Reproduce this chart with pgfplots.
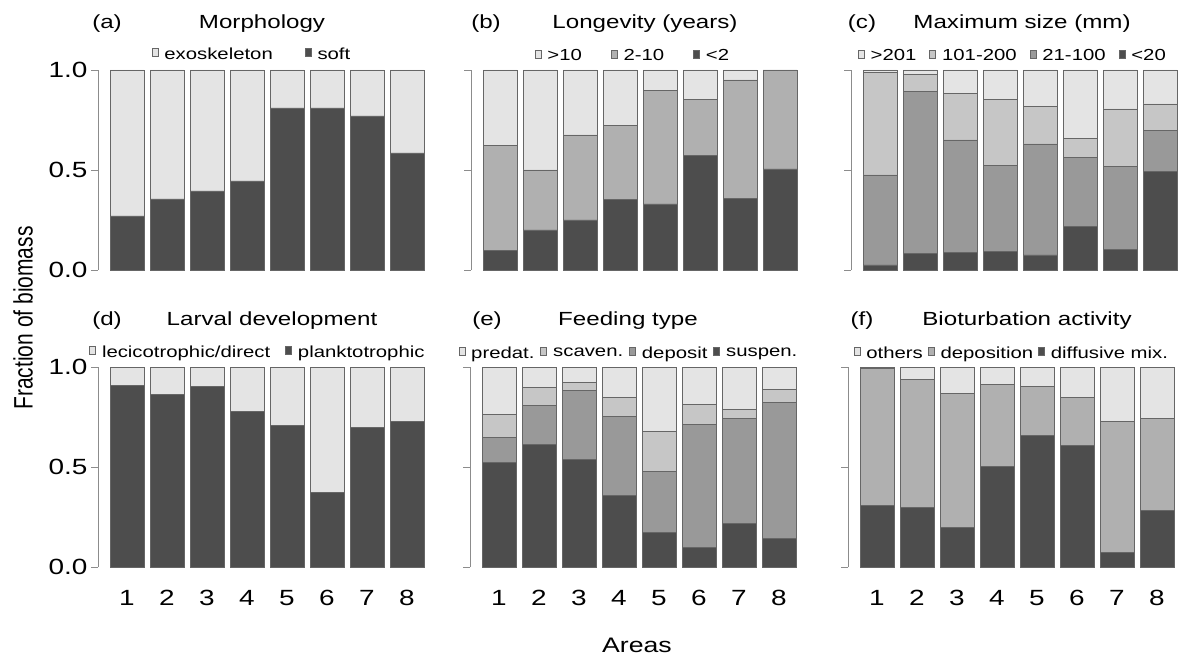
\documentclass[border=0pt]{standalone}
\usepackage{pgfplots}
\usepackage{pgfplotstable}
\usepackage{graphicx}
\usepackage{fontspec}
\setmainfont{Liberation Sans}
\pgfplotsset{compat=1.18}
\newcommand{\W}[1]{\scalebox{1.27}[1]{#1}}
\newcommand{\LE}[2]{\hspace*{6pt}\W{#1}\hspace*{#2}}
\definecolor{cL}{HTML}{E4E4E4}
\definecolor{cM}{HTML}{B0B0B0}
\definecolor{cMa}{HTML}{C6C6C6}
\definecolor{cMb}{HTML}{999999}
\definecolor{cD}{HTML}{4D4D4D}

\pgfplotstableread{
x s1 s2
1 0.270 0.730
2 0.355 0.645
3 0.395 0.605
4 0.445 0.555
5 0.810 0.190
6 0.810 0.190
7 0.770 0.230
8 0.585 0.415
}\tabA
\pgfplotstableread{
x s1 s2 s3
1 0.097 0.526 0.377
2 0.200 0.300 0.500
3 0.250 0.425 0.325
4 0.353 0.370 0.277
5 0.330 0.567 0.103
6 0.573 0.280 0.147
7 0.358 0.592 0.050
8 0.505 0.495 0.000
}\tabB
\pgfplotstableread{
x s1 s2 s3 s4
1 0.025 0.450 0.513 0.012
2 0.083 0.809 0.085 0.023
3 0.087 0.563 0.233 0.117
4 0.092 0.430 0.330 0.148
5 0.075 0.555 0.187 0.183
6 0.217 0.346 0.095 0.342
7 0.102 0.415 0.288 0.195
8 0.492 0.205 0.133 0.170
}\tabC
\pgfplotstableread{
x s1 s2
1 0.908 0.092
2 0.865 0.135
3 0.905 0.095
4 0.778 0.222
5 0.708 0.292
6 0.373 0.627
7 0.697 0.303
8 0.730 0.270
}\tabD
\pgfplotstableread{
x s1 s2 s3 s4
1 0.522 0.128 0.112 0.238
2 0.615 0.192 0.093 0.100
3 0.540 0.343 0.039 0.078
4 0.360 0.393 0.095 0.152
5 0.175 0.302 0.203 0.320
6 0.100 0.612 0.103 0.185
7 0.220 0.522 0.048 0.210
8 0.142 0.681 0.067 0.110
}\tabE
\pgfplotstableread{
x s1 s2 s3
1 0.307 0.686 0.007
2 0.296 0.642 0.062
3 0.198 0.671 0.131
4 0.505 0.409 0.086
5 0.656 0.246 0.098
6 0.608 0.239 0.153
7 0.071 0.657 0.272
8 0.281 0.460 0.259
}\tabF

\pgfplotsset{
  ybar legend/.style={legend image code/.code={%
    \draw[##1,draw=black!55,line width=0.6pt] (0pt,0.5pt) rectangle (10pt,10.5pt);}},
  panel/.style={
    scale only axis, width=329pt, height=200pt,
    xmin=0.275, xmax=8.5, ymin=0, ymax=1,
    ybar stacked, bar width=34pt,
    axis y line*=left,
    ytick={0,0.5,1}, yticklabels={},
    tick align=outside, major tick length=7pt,
    y axis line style={draw=black!45, line width=0.8pt},
    ytick style={draw=black!45, line width=0.8pt},
    yticklabel style={font=\fontsize{22}{24}\selectfont},
    every axis plot/.append style={draw=black!60, line width=0.7pt},
    legend style={draw=none, fill=none, font=\fontsize{16}{18}\selectfont,
      legend columns=-1, anchor=center, inner sep=0pt, column sep=0pt,
      nodes={inner sep=0pt}},
    reverse legend, clip=false,
  },
  toprow/.style={panel, axis x line=none},
  botrow/.style={panel, axis x line*=bottom, x axis line style={draw=none},
    xtick={1,2,3,4,5,6,7,8}, xtick style={draw=none},
    xticklabels={\W{1},\W{2},\W{3},\W{4},\W{5},\W{6},\W{7},\W{8}},
    xticklabel style={font=\fontsize{22}{24}\selectfont, yshift=-13pt}},
  ylab/.style={yticklabels={\W{0.0},\W{0.5},\W{1.0}}},
}

\begin{document}
\begin{tikzpicture}
\path[use as bounding box] (0,0) rectangle (1179pt,657pt);

% (a)
\begin{axis}[toprow, ylab, at={(98pt,387pt)}, anchor=south west,
  legend style={at={(0.465,1.08)}}]
\addplot[fill=cD] table[x=x,y=s1]{\tabA}; \addlegendentry{\LE{soft}{0pt}}
\addplot[fill=cL] table[x=x,y=s2]{\tabA}; \addlegendentry{\LE{exoskeleton}{32pt}}
\end{axis}
% (b)
\begin{axis}[toprow, at={(471pt,387pt)}, anchor=south west,
  legend style={at={(0.489,1.07)}}]
\addplot[fill=cD] table[x=x,y=s1]{\tabB}; \addlegendentry{\LE{<2}{0pt}}
\addplot[fill=cM] table[x=x,y=s2]{\tabB}; \addlegendentry{\LE{2-10}{29pt}}
\addplot[fill=cL] table[x=x,y=s3]{\tabB}; \addlegendentry{\LE{>10}{29pt}}
\end{axis}
% (c)
\begin{axis}[toprow, at={(851pt,387pt)}, anchor=south west,
  legend style={at={(0.489,1.07)}}]
\addplot[fill=cD] table[x=x,y=s1]{\tabC}; \addlegendentry{\LE{<20}{0pt}}
\addplot[fill=cMb] table[x=x,y=s2]{\tabC}; \addlegendentry{\LE{21-100}{13pt}}
\addplot[fill=cMa] table[x=x,y=s3]{\tabC}; \addlegendentry{\LE{101-200}{13pt}}
\addplot[fill=cL] table[x=x,y=s4]{\tabC}; \addlegendentry{\LE{>201}{13pt}}
\end{axis}
% (d)
\begin{axis}[botrow, ylab, at={(98pt,90pt)}, anchor=south west,
  legend style={at={(0.483,1.075)}}]
\addplot[fill=cD] table[x=x,y=s1]{\tabD}; \addlegendentry{\LE{planktotrophic}{0pt}}
\addplot[fill=cL] table[x=x,y=s2]{\tabD}; \addlegendentry{\LE{lecicotrophic/direct}{15pt}}
\end{axis}
% (e)
\begin{axis}[botrow, at={(470pt,90pt)}, anchor=south west,
  legend style={at={(0.480,1.07)}}]
\addplot[fill=cD] table[x=x,y=s1]{\tabE}; \addlegendentry{\LE{suspen.}{0pt}}
\addplot[fill=cMb] table[x=x,y=s2]{\tabE}; \addlegendentry{\LE{deposit}{6pt}}
\addplot[fill=cMa] table[x=x,y=s3]{\tabE}; \addlegendentry{\LE{scaven.}{6pt}}
\addplot[fill=cL] table[x=x,y=s4]{\tabE}; \addlegendentry{\LE{predat.}{6pt}}
\end{axis}
% (f)
\begin{axis}[botrow, at={(848pt,90pt)}, anchor=south west,
  legend style={at={(0.495,1.07)}}]
\addplot[fill=cD] table[x=x,y=s1]{\tabF}; \addlegendentry{\LE{diffusive mix.}{0pt}}
\addplot[fill=cM] table[x=x,y=s2]{\tabF}; \addlegendentry{\LE{deposition}{5pt}}
\addplot[fill=cL] table[x=x,y=s3]{\tabF}; \addlegendentry{\LE{others}{5pt}}
\end{axis}

% titles
\begin{scope}[every node/.style={font=\fontsize{19}{21}\selectfont, anchor=base, inner sep=0pt}]
\node at (107pt,628.5pt) {\W{(a)}};
\node at (262pt,628.5pt) {\W{Morphology}};
\node at (486pt,628.5pt) {\W{(b)}};
\node at (645pt,628.5pt) {\W{Longevity (years)}};
\node at (862pt,628.5pt) {\W{(c)}};
\node at (1022pt,628.5pt) {\W{Maximum size (mm)}};
\node at (107pt,331pt) {\W{(d)}};
\node at (272pt,331pt) {\W{Larval development}};
\node at (487pt,331pt) {\W{(e)}};
\node at (628pt,331pt) {\W{Feeding type}};
\node at (862pt,331pt) {\W{(f)}};
\node at (1027pt,331pt) {\W{Bioturbation activity}};
\end{scope}
\node[font=\fontsize{21}{23}\selectfont, rotate=90, inner sep=0pt] at (23pt,339pt) {\scalebox{1}[1.27]{Fraction of biomass}};
\node[font=\fontsize{21}{23}\selectfont, inner sep=0pt] at (637pt,12pt) {\W{Areas}};
\end{tikzpicture}
\end{document}
